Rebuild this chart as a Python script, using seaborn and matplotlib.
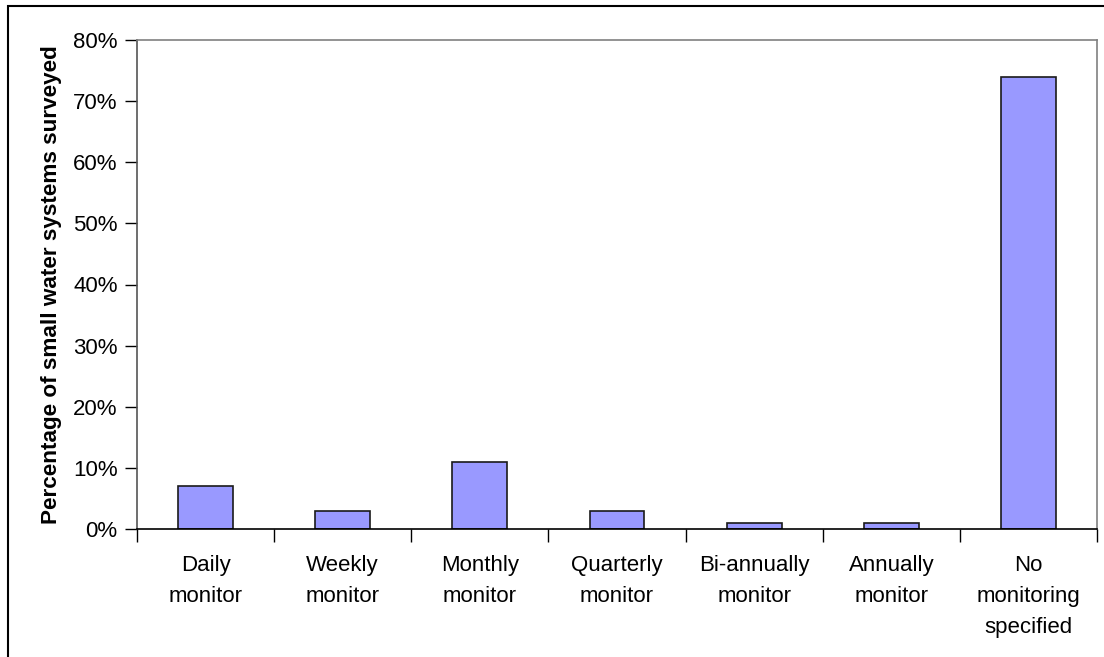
import matplotlib
matplotlib.use("Agg")
import matplotlib.pyplot as plt
import seaborn as sns
import pandas as pd
from matplotlib.patches import Rectangle
from matplotlib.ticker import FixedLocator, FuncFormatter

categories = ["Daily\nmonitor", "Weekly\nmonitor", "Monthly\nmonitor", "Quarterly\nmonitor",
              "Bi-annually\nmonitor", "Annually\nmonitor", "No\nmonitoring\nspecified"]
values = [7, 3, 11, 3, 1, 1, 74]
yticks = [0, 10, 20, 30, 40, 50, 60, 70, 80]

sns.set_theme(style="white")
plt.rcParams['font.family'] = ['Liberation Sans', 'DejaVu Sans']
plt.rcParams['text.color'] = 'black'
plt.rcParams['xtick.color'] = 'black'
plt.rcParams['ytick.color'] = 'black'
plt.rcParams['axes.labelcolor'] = 'black'

W, H = 1104, 657
fig = plt.figure(figsize=(W / 100, H / 100), dpi=100)
ax = fig.add_axes([137 / W, 1 - 529 / H, (1097 - 137) / W, (529 - 40) / H])

df = pd.DataFrame({"cat": categories, "val": values})
sns.barplot(data=df, x="cat", y="val", ax=ax, color="#9999FF", saturation=1,
            width=0.4, edgecolor="#1a1a1a", linewidth=1.2)

ax.set_xlim(-0.5, len(categories) - 0.5)
ax.set_ylim(0, 80)
ax.set_yticks(yticks)
ax.yaxis.set_major_formatter(FuncFormatter(lambda v, p: f"{int(v)}%"))
ax.tick_params(axis="y", which="major", length=9, width=1, color="#000000",
               labelsize=16, pad=5, direction="out", left=True)

ax.set_xticks([i - 0.5 for i in range(len(categories) + 1)])
ax.set_xticklabels([])
ax.xaxis.set_minor_locator(FixedLocator(range(len(categories))))
ax.set_xticklabels(categories, minor=True, linespacing=1.6)
ax.tick_params(axis="x", which="major", length=9, width=1, color="#000000",
               direction="out", bottom=True)
ax.tick_params(axis="x", which="minor", length=0, labelsize=16, pad=19)

ax.set_xlabel("")
ax.set_ylabel("Percentage of small water systems surveyed", fontsize=16.2,
              fontweight="bold", labelpad=8)

for s in ["top", "right"]:
    ax.spines[s].set_visible(True)
    ax.spines[s].set_color("#808080")
    ax.spines[s].set_linewidth(1.2)
ax.spines["left"].set_color("#555555")
ax.spines["left"].set_linewidth(1.2)
ax.spines["bottom"].set_color("#000000")
ax.spines["bottom"].set_linewidth(1.2)
ax.grid(False)

fig.patches.append(Rectangle((8 / W, -0.05), 1.2, 1 - 6 / H + 0.05, transform=fig.transFigure,
                             fill=False, edgecolor="#000000", linewidth=1.5))

fig.savefig("out.png", dpi=100)
